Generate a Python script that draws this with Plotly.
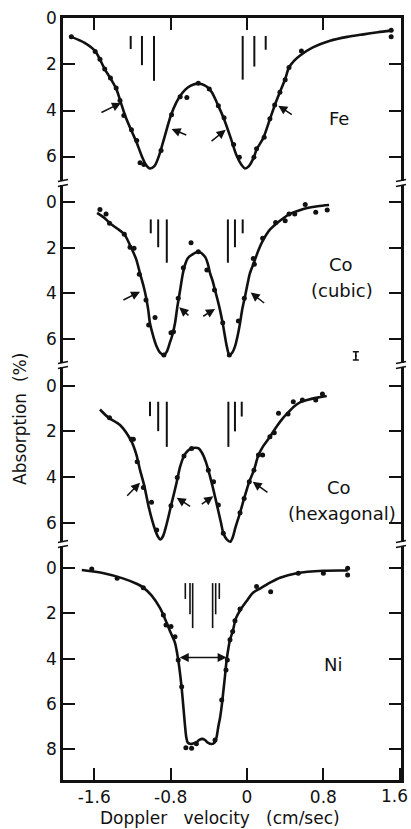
import plotly.graph_objects as go

# ---------------- data ----------------
# Panel 1: Fe
fe_pts_x = [-1.84, -1.59, -1.54, -1.49, -1.43, -1.37, -1.33, -1.29, -1.21, -1.155, -1.12, -1.08,
            -0.90, -0.79, -0.70, -0.63, -0.51, -0.395, -0.30, -0.24, -0.14, -0.08, 0.073, 0.10,
            0.18, 0.24, 0.29, 0.345, 0.40, 0.44, 0.57, 1.51, 1.51]
fe_pts_y = [0.79, 1.44, 1.77, 2.2, 2.59, 3.02, 3.57, 4.22, 4.84, 5.3, 6.27, 6.35,
            5.74, 4.18, 3.4, 3.43, 2.82, 3.07, 3.79, 4.32, 5.48, 6.03, 6.03, 5.66,
            5.16, 4.36, 3.76, 3.21, 2.66, 2.13, 1.41, 0.51, 0.80]
fe_fit_x = [-1.84, -1.70, -1.59, -1.49, -1.43, -1.37, -1.32, -1.27, -1.21, -1.155, -1.10, -1.06,
            -1.02, -0.97, -0.92, -0.86, -0.80, -0.74, -0.68, -0.62, -0.56, -0.52, -0.47, -0.42,
            -0.37, -0.30, -0.24, -0.17, -0.11, -0.06, -0.02, 0.02, 0.07, 0.10, 0.17, 0.235,
            0.29, 0.34, 0.40, 0.44, 0.49, 0.56, 0.69, 0.87, 1.05, 1.22, 1.37, 1.51]
fe_fit_y = [0.80, 1.06, 1.42, 2.2, 2.6, 3.05, 3.67, 4.29, 4.88, 5.4, 6.0, 6.35,
            6.52, 6.42, 5.95, 5.1, 4.25, 3.65, 3.25, 3.0, 2.87, 2.83, 2.86, 2.97,
            3.2, 3.8, 4.38, 5.2, 5.95, 6.35, 6.52, 6.42, 6.05, 5.7, 5.2, 4.44,
            3.78, 3.25, 2.63, 2.13, 1.85, 1.6, 1.26, 0.97, 0.8, 0.69, 0.6, 0.53]
fe_lines_x = [-1.218, -1.10, -0.974, -0.045, 0.077, 0.196]
fe_lines_top = [0.76, 0.76, 0.76, 0.76, 0.76, 0.76]
fe_lines_bot = [1.33, 2.03, 2.71, 2.66, 2.09, 1.36]
fe_arrows = [(-1.32, 3.67, -1.54, 4.12), (-0.79, 4.80, -0.62, 5.09),
             (-0.223, 4.84, -0.387, 5.38), (0.328, 3.79, 0.485, 4.22)]

# Panel 2: Co (cubic)
cc_pts_x = [-1.54, -1.476, -1.44, -1.285, -1.225, -1.183, -1.128, -1.058, -0.963, -1.03, -0.87,
            -0.796, -0.77, -0.72, -0.667, -0.586, -0.51, -0.42, -0.34, -0.254, -0.185, -0.09,
            -0.028, 0.066, 0.077, 0.164, 0.30, 0.40, 0.44, 0.50, 0.61, 0.72, 0.84]
cc_pts_y = [0.31, 0.51, 0.92, 1.40, 1.97, 2.02, 3.16, 4.29, 5.06, 5.38, 6.70,
            5.72, 5.68, 4.21, 2.87, 1.77, 2.17, 2.97, 3.85, 5.28, 6.70, 5.21,
            4.21, 2.46, 2.72, 1.58, 0.88, 0.81, 0.51, 0.51, 0.09, 0.44, 0.34]
cc_fit_x = [-1.57, -1.50, -1.435, -1.36, -1.285, -1.21, -1.16, -1.12, -1.085, -1.058, -1.035,
            -1.016, -0.98, -0.946, -0.91, -0.87, -0.84, -0.81, -0.78, -0.754, -0.73, -0.70,
            -0.675, -0.65, -0.62, -0.58, -0.51, -0.44, -0.41, -0.387, -0.36, -0.335, -0.31,
            -0.283, -0.255, -0.23, -0.21, -0.185, -0.155, -0.126, -0.10, -0.073, -0.05, -0.021,
            0.005, 0.031, 0.077, 0.12, 0.17, 0.24, 0.31, 0.38, 0.45, 0.53, 0.62, 0.74, 0.86]
cc_fit_y = [0.46, 0.66, 0.92, 1.15, 1.4, 2.02, 2.5, 3.13, 3.65, 4.14, 4.7,
            5.31, 5.9, 6.33, 6.6, 6.7, 6.55, 6.19, 5.8, 5.31, 4.6, 3.85,
            3.2, 2.75, 2.45, 2.31, 2.17, 2.39, 2.7, 3.11, 3.45, 3.85, 4.25,
            4.72, 5.3, 5.9, 6.35, 6.70, 6.6, 6.33, 5.9, 5.31, 4.7, 4.14,
            3.6, 3.11, 2.6, 2.1, 1.65, 1.2, 0.93, 0.7, 0.51, 0.38, 0.26, 0.17, 0.12]
cc_lines_x = [-1.008, -0.93, -0.84, -0.20, -0.126, -0.045]
cc_lines_top = [0.75, 0.75, 0.75, 0.75, 0.75, 0.75]
cc_lines_bot = [1.36, 1.97, 2.65, 2.65, 1.97, 1.36]
cc_arrows = [(-1.12, 3.92, -1.31, 4.32), (-0.709, 4.61, -0.597, 5.02),
             (-0.335, 4.68, -0.474, 5.04), (0.039, 3.96, 0.196, 4.47)]
cc_err = (1.14, 6.74, 0.18)

# Panel 3: Co (hexagonal)
ch_pts_x = [-1.44, -1.21, -1.19, -1.15, -1.085, -1.0, -0.946, -0.796, -0.73, -0.66, -0.58,
            -0.405, -0.35, -0.30, -0.248, -0.073, -0.03, 0.024, 0.073, 0.12, 0.164, 0.24,
            0.286, 0.33, 0.43, 0.485, 0.58, 0.72, 0.79]
ch_pts_y = [1.40, 2.35, 2.35, 3.33, 4.46, 5.11, 6.33, 5.26, 4.02, 3.08, 2.75,
            3.70, 4.21, 5.23, 6.47, 5.57, 4.94, 4.21, 3.70, 3.04, 3.04, 2.24,
            2.06, 1.21, 1.24, 0.70, 0.63, 0.63, 0.36]
ch_fit_x = [-1.54, -1.45, -1.33, -1.21, -1.16, -1.12, -1.075, -1.03, -0.99, -0.96, -0.935,
            -0.91, -0.88, -0.84, -0.79, -0.74, -0.70, -0.66, -0.62, -0.58, -0.54, -0.51,
            -0.47, -0.43, -0.405, -0.37, -0.33, -0.30, -0.27, -0.248, -0.21, -0.175, -0.15,
            -0.12, -0.073, -0.03, 0.024, 0.073, 0.12, 0.17, 0.24, 0.30, 0.37, 0.43, 0.49,
            0.56, 0.65, 0.74, 0.835]
ch_fit_y = [1.04, 1.40, 1.72, 2.44, 3.0, 3.7, 4.4, 5.3, 5.95, 6.35, 6.6,
            6.74, 6.6, 6.04, 5.16, 4.3, 3.55, 3.08, 2.85, 2.75, 2.72, 2.74,
            2.95, 3.35, 3.70, 4.25, 4.95, 5.5, 6.05, 6.47, 6.75, 6.84, 6.65,
            6.2, 5.57, 4.94, 4.21, 3.70, 3.04, 2.65, 2.24, 1.85, 1.45, 1.18, 0.92,
            0.72, 0.6, 0.52, 0.45]
ch_lines_x = [-1.016, -0.93, -0.84, -0.195, -0.126, -0.055]
ch_lines_top = [0.70, 0.70, 0.70, 0.70, 0.70, 0.70]
ch_lines_bot = [1.33, 1.99, 2.68, 2.68, 2.0, 1.35]
ch_arrows = [(-1.12, 4.25, -1.27, 4.89), (-0.736, 4.91, -0.58, 5.33),
             (-0.353, 4.85, -0.49, 5.24), (0.06, 4.21, 0.23, 4.72)]

# Panel 4: Ni
ni_pts_x = [-1.626, -1.36, -1.086, -0.876, -0.848, -0.796, -0.754, -0.72, -0.684, -0.64, -0.58,
            -0.53, -0.335, -0.265, -0.22, -0.206, -0.178, -0.15, -0.126, -0.073, 0.10, 0.248,
            0.537, 0.80, 1.054, 1.054]
ni_pts_y = [0.04, 0.44, 0.86, 2.07, 2.51, 2.58, 3.03, 4.06, 5.24, 7.94, 7.96,
            7.77, 7.6, 5.83, 4.50, 4.06, 3.17, 2.80, 2.33, 1.81, 0.81, 1.04,
            0.22, 0.22, 0.0, 0.30]
ni_fit_x = [-1.73, -1.5, -1.3, -1.15, -1.086, -1.0, -0.91, -0.84, -0.80, -0.754, -0.72, -0.70,
            -0.684, -0.665, -0.65, -0.635, -0.62, -0.59, -0.56, -0.53, -0.50, -0.47, -0.44,
            -0.41, -0.37, -0.34, -0.32, -0.30, -0.283, -0.265, -0.248, -0.23, -0.213, -0.195,
            -0.178, -0.15, -0.115, -0.07, -0.003, 0.06, 0.136, 0.25, 0.346, 0.52, 0.80, 1.054]
ni_fit_y = [0.08, 0.22, 0.45, 0.7, 0.86, 1.2, 1.77, 2.43, 2.85, 3.3, 4.06, 4.7,
            5.31, 6.2, 6.93, 7.5, 7.72, 7.78, 7.75, 7.7, 7.6, 7.55, 7.6,
            7.72, 7.78, 7.72, 7.5, 7.0, 6.64, 6.1, 5.46, 4.75, 4.06, 3.55,
            3.17, 2.8, 2.21, 1.85, 1.45, 1.1, 0.9, 0.62, 0.42, 0.22, 0.11, 0.1]
ni_lines_x = [-0.646, -0.597, -0.569, -0.36, -0.328, -0.29]
ni_lines_top = [0.66, 0.66, 0.66, 0.66, 0.66, 0.66]
ni_lines_bot = [1.36, 2.04, 2.65, 2.65, 2.04, 1.36]
ni_width = (-0.72, -0.213, 3.95)

# axis ticks / labels
x_ticks = [-1.6, -0.8, 0, 0.8, 1.6]
x_tick_text = ["-1.6", "-0.8", "0", "0.8", ""]
x_last_label = "1.6"
y_ticks_small = [0, 2, 4, 6]
y_ticks_ni = [0, 2, 4, 6, 8]

# ---------------- figure ----------------
INK = "#111111"
FONT = "DejaVu Sans"
fig = go.Figure()

panels = [
    ("y", fe_pts_x, fe_pts_y, fe_fit_x, fe_fit_y, fe_lines_x, fe_lines_top, fe_lines_bot),
    ("y2", cc_pts_x, cc_pts_y, cc_fit_x, cc_fit_y, cc_lines_x, cc_lines_top, cc_lines_bot),
    ("y3", ch_pts_x, ch_pts_y, ch_fit_x, ch_fit_y, ch_lines_x, ch_lines_top, ch_lines_bot),
    ("y4", ni_pts_x, ni_pts_y, ni_fit_x, ni_fit_y, ni_lines_x, ni_lines_top, ni_lines_bot),
]

for ya, px, py, fx, fy, lx, lt, lb in panels:
    fig.add_trace(go.Scatter(x=fx, y=fy, xaxis="x", yaxis=ya, mode="lines",
                             line=dict(color=INK, width=2.6, shape="spline", smoothing=0.8),
                             hoverinfo="skip", showlegend=False))
    fig.add_trace(go.Scatter(x=px, y=py, xaxis="x", yaxis=ya, mode="markers",
                             marker=dict(color=INK, size=5), hoverinfo="skip", showlegend=False))
    sx, sy = [], []
    for xv, t, b in zip(lx, lt, lb):
        sx += [xv, xv, None]
        sy += [t, b, None]
    fig.add_trace(go.Scatter(x=sx, y=sy, xaxis="x", yaxis=ya, mode="lines",
                             line=dict(color=INK, width=2 if ya != "y4" else 1.6),
                             hoverinfo="skip", showlegend=False))

# error bar in Co (cubic)
fig.add_trace(go.Scatter(x=[cc_err[0]], y=[cc_err[1]], xaxis="x", yaxis="y2", mode="markers",
                         marker=dict(color=INK, size=2),
                         error_y=dict(type="data", array=[cc_err[2]], color=INK, thickness=1.6, width=3),
                         hoverinfo="skip", showlegend=False))
# dummy trace for top axis
fig.add_trace(go.Scatter(x=[None], y=[None], xaxis="x2", yaxis="y", showlegend=False, hoverinfo="skip"))

annotations = []
for ya, arr in (("y", fe_arrows), ("y2", cc_arrows), ("y3", ch_arrows)):
    for hx, hy, tx, ty in arr:
        annotations.append(dict(x=hx, y=hy, ax=tx, ay=ty, xref="x", yref=ya, axref="x", ayref=ya,
                                showarrow=True, arrowhead=2, arrowsize=1.2, arrowwidth=1.5,
                                arrowcolor=INK, text=""))
annotations.append(dict(x=ni_width[1], y=ni_width[2], ax=ni_width[0], ay=ni_width[2],
                        xref="x", yref="y4", axref="x", ayref="y4", showarrow=True,
                        arrowhead=2, startarrowhead=2, arrowside="end+start", arrowsize=1.2,
                        arrowwidth=1.5, arrowcolor=INK, text=""))

lab_font = dict(family=FONT, size=18, color=INK)
for txt, xx, yy, ya in (("Fe", 0.965, 4.33, "y"), ("Co", 0.98, 2.75, "y2"),
                        ("(cubic)", 1.0, 3.87, "y2"), ("Co", 0.965, 4.44, "y3"),
                        ("(hexagonal)", 1.0, 5.6, "y3"), ("Ni", 0.90, 4.28, "y4")):
    annotations.append(dict(x=xx, y=yy, xref="x", yref=ya, text=txt, showarrow=False,
                            font=lab_font, xanchor="center", yanchor="middle"))

tick_font = dict(family=FONT, size=17, color=INK)
# last x tick label, right-aligned so it stays inside the picture
annotations.append(dict(text=x_last_label, xref="paper", yref="paper", x=1.0, y=0,
                        xshift=9, yshift=-4, xanchor="right", yanchor="top", showarrow=False,
                        font=tick_font))
annotations.append(dict(text="Absorption\u00a0\u00a0(%)", textangle=-90, xref="paper", yref="paper",
                        x=-0.127, y=0.474, showarrow=False, xanchor="center", yanchor="middle",
                        font=dict(family=FONT, size=17, color=INK)))
annotations.append(dict(text="Doppler\u00a0\u00a0\u00a0velocity\u00a0\u00a0\u00a0(cm/sec)",
                        xref="paper", yref="paper", x=0.4645, y=-0.0505, showarrow=False,
                        xanchor="center", yanchor="middle",
                        font=dict(family=FONT, size=17, color=INK)))

# axis break marks on the frame
shapes = []
for yb in (0.7835, 0.5446, 0.3097):
    for xb in (0, 1):
        shapes.append(dict(type="rect", xref="paper", yref="paper", xsizemode="pixel",
                           ysizemode="pixel", xanchor=xb, yanchor=yb, x0=-4, x1=4, y0=-2, y1=2,
                           fillcolor="white", line=dict(width=0), layer="above"))
        for off in (-2.5, 2.5):
            shapes.append(dict(type="line", xref="paper", yref="paper", xsizemode="pixel",
                               ysizemode="pixel", xanchor=xb, yanchor=yb, x0=-5, x1=5,
                               y0=off - 1, y1=off + 1, line=dict(color=INK, width=1.5),
                               layer="above"))

yax_common = dict(showgrid=False, zeroline=False, showline=True, linecolor=INK, linewidth=2.5,
                  mirror="ticks", ticks="inside", ticklen=12, tickwidth=2, tickcolor=INK,
                  tickfont=tick_font, anchor="x", automargin=False)

fig.update_layout(
    width=411, height=829, paper_bgcolor="white", plot_bgcolor="white",
    margin=dict(l=63, r=10, t=18, b=49, autoexpand=False),
    xaxis=dict(range=[-1.927, 1.613], tickvals=x_ticks, ticktext=x_tick_text, ticks="inside",
               ticklen=12, tickwidth=2, tickcolor=INK, showline=True, linecolor=INK, linewidth=2.5,
               showgrid=False, zeroline=False, anchor="y4", tickfont=tick_font, domain=[0, 1],
               automargin=False),
    xaxis2=dict(range=[-1.927, 1.613], tickvals=x_ticks[:4], ticks="inside", ticklen=12,
                tickwidth=2, tickcolor=INK, showline=True, linecolor=INK, linewidth=2.5,
                showgrid=False, zeroline=False, showticklabels=False, overlaying="x",
                side="top", anchor="y", automargin=False),
    yaxis=dict(domain=[0.7835, 1.0], range=[7.15, -0.02], tickvals=y_ticks_small, **yax_common),
    yaxis2=dict(domain=[0.5446, 0.7835], range=[7.14, -0.85], tickvals=y_ticks_small, **yax_common),
    yaxis3=dict(domain=[0.3097, 0.5446], range=[6.94, -0.91], tickvals=y_ticks_small, **yax_common),
    yaxis4=dict(domain=[0.0, 0.3097], range=[9.37, -1.07], tickvals=y_ticks_ni, **yax_common),
    annotations=annotations, shapes=shapes,
)

fig.write_html("out.html", config={"displayModeBar": False},
               post_script="document.body.style.margin='0';")
